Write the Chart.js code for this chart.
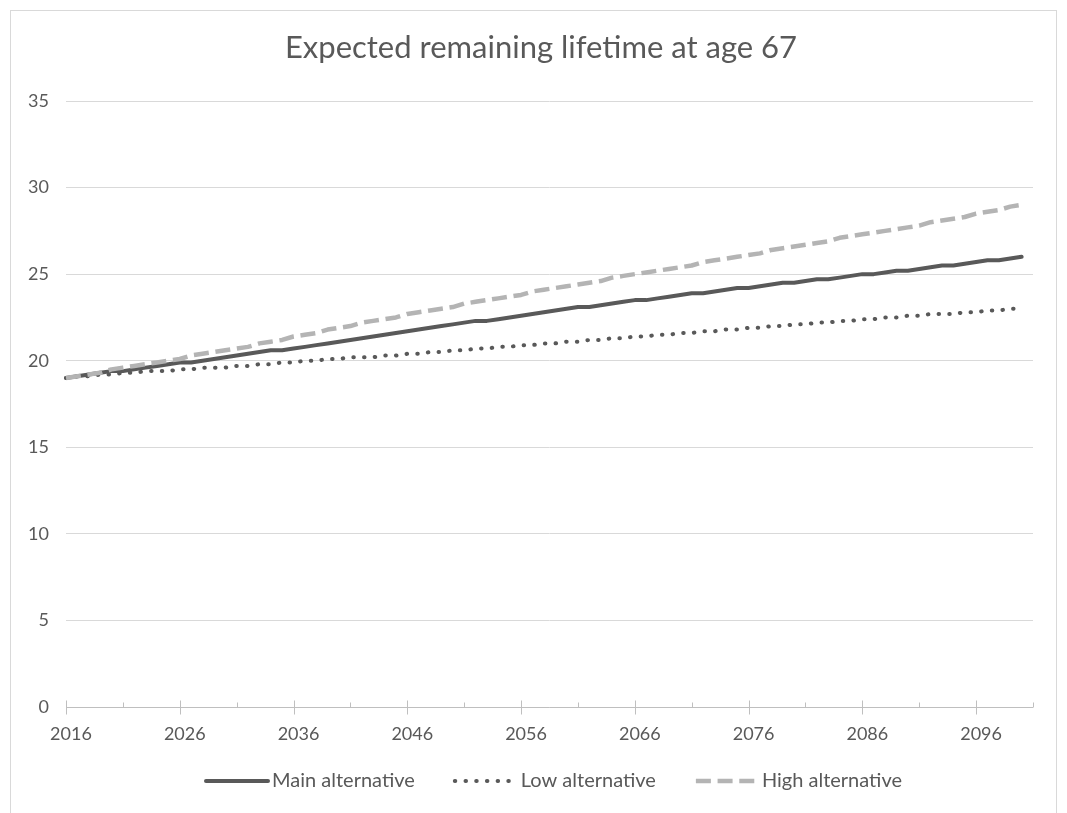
<!DOCTYPE html>
<html>
<head>
<meta charset="utf-8">
<title>Expected remaining lifetime at age 67</title>
<script src="https://cdn.jsdelivr.net/npm/chart.js@4.4.1/dist/chart.umd.min.js"></script>
<style>
  html, body { margin: 0; padding: 0; background: #ffffff; }
  #frame { position: absolute; left: 10px; top: 10px; width: 1047px; height: 820px;
           border: 1px solid #d9d9d9; box-sizing: border-box; }
  #wrap { position: absolute; left: 0; top: 0; width: 1067px; height: 813px; }
</style>
</head>
<body>
<div id="frame"></div>
<div id="wrap"><canvas id="chart" width="1067" height="813"></canvas></div>
<script>
// Projection years (the axis runs one year past the last observation)
const years = [
  2016, 2017, 2018, 2019, 2020, 2021, 2022, 2023, 2024, 2025,
  2026, 2027, 2028, 2029, 2030, 2031, 2032, 2033, 2034, 2035,
  2036, 2037, 2038, 2039, 2040, 2041, 2042, 2043, 2044, 2045,
  2046, 2047, 2048, 2049, 2050, 2051, 2052, 2053, 2054, 2055,
  2056, 2057, 2058, 2059, 2060, 2061, 2062, 2063, 2064, 2065,
  2066, 2067, 2068, 2069, 2070, 2071, 2072, 2073, 2074, 2075,
  2076, 2077, 2078, 2079, 2080, 2081, 2082, 2083, 2084, 2085,
  2086, 2087, 2088, 2089, 2090, 2091, 2092, 2093, 2094, 2095,
  2096, 2097, 2098, 2099, 2100, 2101
];

// Expected remaining lifetime at age 67, years (2016–2100)
const mainAlternative = [
  19.0, 19.1, 19.2, 19.3, 19.4, 19.4, 19.5, 19.6, 19.7, 19.8,
  19.9, 19.9, 20.0, 20.1, 20.2, 20.3, 20.4, 20.5, 20.6, 20.6,
  20.7, 20.8, 20.9, 21.0, 21.1, 21.2, 21.3, 21.4, 21.5, 21.6,
  21.7, 21.8, 21.9, 22.0, 22.1, 22.2, 22.3, 22.3, 22.4, 22.5,
  22.6, 22.7, 22.8, 22.9, 23.0, 23.1, 23.1, 23.2, 23.3, 23.4,
  23.5, 23.5, 23.6, 23.7, 23.8, 23.9, 23.9, 24.0, 24.1, 24.2,
  24.2, 24.3, 24.4, 24.5, 24.5, 24.6, 24.7, 24.7, 24.8, 24.9,
  25.0, 25.0, 25.1, 25.2, 25.2, 25.3, 25.4, 25.5, 25.5, 25.6,
  25.7, 25.8, 25.8, 25.9, 26.0
];

const lowAlternative = [
  19.0, 19.1, 19.1, 19.2, 19.2, 19.3, 19.3, 19.4, 19.4, 19.4,
  19.5, 19.5, 19.6, 19.6, 19.6, 19.7, 19.7, 19.8, 19.8, 19.9,
  19.9, 20.0, 20.0, 20.1, 20.1, 20.2, 20.2, 20.2, 20.3, 20.3,
  20.4, 20.4, 20.5, 20.5, 20.6, 20.6, 20.7, 20.7, 20.8, 20.8,
  20.9, 20.9, 21.0, 21.0, 21.1, 21.1, 21.2, 21.2, 21.3, 21.3,
  21.4, 21.4, 21.5, 21.5, 21.6, 21.6, 21.7, 21.7, 21.8, 21.8,
  21.9, 21.9, 22.0, 22.0, 22.1, 22.1, 22.2, 22.2, 22.3, 22.3,
  22.4, 22.4, 22.5, 22.5, 22.6, 22.6, 22.7, 22.7, 22.7, 22.8,
  22.8, 22.9, 22.9, 23.0, 23.0
];

const highAlternative = [
  19.0, 19.1, 19.2, 19.3, 19.5, 19.6, 19.7, 19.8, 19.9, 20.0,
  20.1, 20.3, 20.4, 20.5, 20.6, 20.7, 20.8, 21.0, 21.1, 21.2,
  21.4, 21.5, 21.6, 21.8, 21.9, 22.0, 22.2, 22.3, 22.4, 22.5,
  22.7, 22.8, 22.9, 23.0, 23.1, 23.3, 23.4, 23.5, 23.6, 23.7,
  23.8, 24.0, 24.1, 24.2, 24.3, 24.4, 24.5, 24.6, 24.8, 24.9,
  25.0, 25.1, 25.2, 25.3, 25.4, 25.5, 25.7, 25.8, 25.9, 26.0,
  26.1, 26.2, 26.4, 26.5, 26.6, 26.7, 26.8, 26.9, 27.1, 27.2,
  27.3, 27.4, 27.5, 27.6, 27.7, 27.8, 28.0, 28.1, 28.2, 28.3,
  28.5, 28.6, 28.7, 28.9, 29.0
];

// Years that carry a label on the horizontal axis
const labelledYears = [2016, 2026, 2036, 2046, 2056, 2066, 2076, 2086, 2096];
// Vertical axis ticks
const yTicks = [0, 5, 10, 15, 20, 25, 30, 35];

const seriesNames = ['Main alternative', 'Low alternative', 'High alternative'];
const chartTitle = 'Expected remaining lifetime at age 67';

const FONT = 'Lato, "Open Sans", sans-serif';
const TEXT = '#595959';

// Chart heading, drawn in the space kept free by the top layout padding.
const heading = {
  id: 'heading',
  afterDraw(chart, args, opts) {
    const ctx = chart.ctx;
    ctx.save();
    ctx.font = opts.size + 'px ' + FONT;
    ctx.fillStyle = TEXT;
    ctx.textAlign = 'center';
    ctx.textBaseline = 'middle';
    ctx.fillText(opts.text, opts.x, opts.y);
    ctx.restore();
  }
};

// Horizontal axis line with crossing major marks every 10 years and
// inside minor marks every 5 years.
const axisMarks = {
  id: 'axisMarks',
  beforeDatasetsDraw(chart) {
    const xs = chart.scales.x, ys = chart.scales.y;
    const ctx = chart.ctx;
    const y0 = Math.round(ys.getPixelForValue(yTicks[0])) + 0.5;
    ctx.save();
    ctx.strokeStyle = '#bfbfbf';
    ctx.lineWidth = 1;
    ctx.beginPath();
    ctx.moveTo(xs.left, y0);
    ctx.lineTo(xs.right, y0);
    years.forEach((yr, i) => {
      const step = yr - years[0];
      if (step % 5 !== 0) return;
      const px = Math.round(xs.getPixelForValue(i)) + 0.5;
      const major = step % 10 === 0;
      ctx.moveTo(px, y0 - (major ? 7 : 5));
      ctx.lineTo(px, y0 + (major ? 7 : 0));
    });
    ctx.stroke();
    ctx.restore();
  }
};

// Legend row under the axis, sampling each dataset's own line style.
const lineLegend = {
  id: 'lineLegend',
  afterDraw(chart, args, opts) {
    const ctx = chart.ctx;
    ctx.save();
    ctx.font = opts.size + 'px ' + FONT;
    const items = chart.data.datasets.map(ds => ({
      ds,
      w: opts.sample + opts.gap + ctx.measureText(ds.label).width
    }));
    const total = items.reduce((s, it) => s + it.w, 0) + opts.spacing * (items.length - 1);
    let x = opts.centerX - total / 2;
    const y = opts.y;
    items.forEach(({ ds, w }) => {
      ctx.beginPath();
      ctx.strokeStyle = ds.borderColor;
      ctx.lineWidth = ds.borderWidth;
      ctx.lineCap = ds.borderCapStyle || 'butt';
      ctx.setLineDash(ds.borderDash || []);
      ctx.moveTo(x, y);
      ctx.lineTo(x + opts.sample, y);
      ctx.stroke();
      ctx.setLineDash([]);
      ctx.fillStyle = TEXT;
      ctx.textAlign = 'left';
      ctx.textBaseline = 'middle';
      ctx.fillText(ds.label, x + opts.sample + opts.gap, y);
      x += w + opts.spacing;
    });
    ctx.restore();
  }
};

new Chart(document.getElementById('chart'), {
  type: 'line',
  data: {
    labels: years,
    datasets: [
      {
        label: seriesNames[0],
        data: mainAlternative,
        borderColor: '#595959',
        borderWidth: 4,
        borderCapStyle: 'round',
        borderJoinStyle: 'round',
        order: 3
      },
      {
        label: seriesNames[1],
        data: lowAlternative,
        borderColor: '#595959',
        borderWidth: 4,
        borderDash: [0.5, 10.2],
        borderCapStyle: 'round',
        borderJoinStyle: 'round',
        order: 2
      },
      {
        label: seriesNames[2],
        data: highAlternative,
        borderColor: '#b4b4b4',
        borderWidth: 4.5,
        borderDash: [15, 6.7],
        borderCapStyle: 'butt',
        borderJoinStyle: 'round',
        order: 1
      }
    ]
  },
  options: {
    responsive: false,
    animation: false,
    devicePixelRatio: 1,
    layout: { padding: { left: 0, right: 34, top: 101, bottom: 66 } },
    elements: { point: { radius: 0, hoverRadius: 0 }, line: { tension: 0 } },
    plugins: {
      legend: { display: false },
      title: { display: false },
      tooltip: { enabled: false },
      heading: { text: chartTitle, size: 31, x: 541, y: 48 },
      lineLegend: { size: 20, sample: 62, gap: 4, spacing: 40, centerX: 554, y: 781 }
    },
    scales: {
      x: {
        type: 'category',
        offset: false,
        grid: { display: false, drawTicks: false },
        border: { display: false },
        afterFit: s => { s.height = 40; },
        ticks: {
          autoSkip: false,
          maxRotation: 0,
          minRotation: 0,
          padding: 16,
          labelOffset: 5,
          color: TEXT,
          font: { family: FONT, size: 18 },
          callback: (v, i) => labelledYears.includes(years[i]) ? String(years[i]) : null
        }
      },
      y: {
        min: yTicks[0],
        max: yTicks[yTicks.length - 1],
        afterFit: s => { s.width = 66; },
        afterBuildTicks: s => { s.ticks = yTicks.map(v => ({ value: v })); },
        grid: { color: '#d9d9d9', lineWidth: 1, drawTicks: false },
        border: { display: false },
        ticks: {
          padding: 17,
          color: TEXT,
          font: { family: FONT, size: 18 }
        }
      }
    }
  },
  plugins: [heading, axisMarks, lineLegend]
});
</script>
</body>
</html>
